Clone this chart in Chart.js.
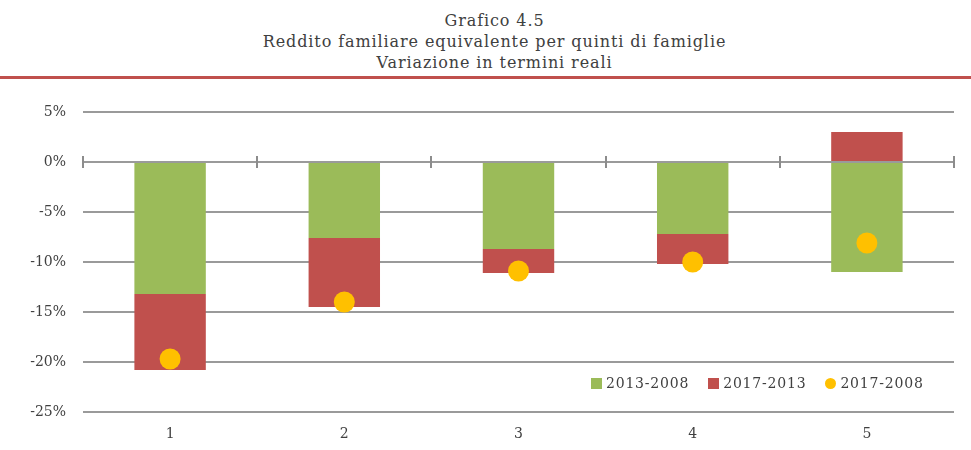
<!DOCTYPE html>
<html lang="it">
<head>
<meta charset="utf-8">
<title>Grafico 4.5</title>
<script src="https://cdn.jsdelivr.net/npm/chart.js@4.4.1/dist/chart.umd.min.js"></script>
<style>
  html, body { margin: 0; padding: 0; background: #fff; }
  #wrap { position: relative; width: 971px; height: 450px; overflow: hidden; font-family: "DejaVu Serif", serif; color: #404040; }
  #titolo { position: absolute; top: 10px; left: 18px; right: 0; text-align: center; font-size: 16px; line-height: 21px; letter-spacing: 0.9px; }
  #riga { position: absolute; top: 76px; left: 0; width: 971px; height: 3px; background: #c0504d; }
  #chart { position: absolute; top: 0; left: 0; }
  #legenda { position: absolute; top: 375px; left: 591px; display: flex; align-items: center; font-size: 14px; letter-spacing: 0.8px; white-space: nowrap; }
  #legenda span.box { display: inline-block; width: 11px; height: 11px; margin-right: 4px; }
  #legenda span.dot { display: inline-block; width: 11px; height: 11px; border-radius: 50%; margin-right: 4px; }
  #legenda .item { display: flex; align-items: center; margin-right: 19px; }
</style>
</head>
<body>
<div id="wrap">
  <div id="titolo">Grafico 4.5<br>Reddito familiare equivalente per quinti di famiglie<br>Variazione in termini reali</div>
  <div id="riga"></div>
  <canvas id="chart" width="971" height="450"></canvas>
  <div id="legenda"></div>
</div>
<script>
  // Quinti di famiglie
  const quinti = ["1", "2", "3", "4", "5"];
  // Variazioni percentuali
  const var2013_2008 = [-13.2, -7.6, -8.7, -7.2, -11.0];
  const var2017_2013 = [-7.6, -6.9, -2.4, -3.0, 3.0];
  const var2017_2008 = [-19.7, -14.0, -10.9, -10.0, -8.1];
  const serieNomi = ["2013-2008", "2017-2013", "2017-2008"];
  const colori = ["#9bbb59", "#c0504d", "#ffc000"];

  const font = { family: "'DejaVu Serif', serif", size: 14 };

  // piccole tacche sulla linea dello zero, ai confini delle categorie
  const tacchePlugin = {
    id: "tacche",
    afterDatasetsDraw(chart) {
      const { ctx, chartArea, scales } = chart;
      const y0 = scales.y.getPixelForValue(0);
      const step = (chartArea.right - chartArea.left) / quinti.length;
      ctx.save();
      ctx.strokeStyle = "#8c8c8c";
      ctx.lineWidth = 2;
      for (let i = 0; i <= quinti.length; i++) {
        const x = Math.round(chartArea.left + i * step);
        ctx.beginPath();
        ctx.moveTo(x, y0 - 6);
        ctx.lineTo(x, y0 + 6);
        ctx.stroke();
      }
      ctx.restore();
    },
  };

  new Chart(document.getElementById("chart"), {
    data: {
      labels: quinti,
      datasets: [
        {
          type: "line",
          label: serieNomi[2],
          data: var2017_2008,
          showLine: false,
          pointRadius: 10.5,
          pointHoverRadius: 10.5,
          pointBackgroundColor: colori[2],
          pointBorderWidth: 0,
          backgroundColor: colori[2],
          stack: "punti",
          order: 0,
        },
        {
          type: "bar",
          label: serieNomi[0],
          data: var2013_2008,
          backgroundColor: colori[0],
          stack: "barre",
          order: 1,
        },
        {
          type: "bar",
          label: serieNomi[1],
          data: var2017_2013,
          backgroundColor: colori[1],
          stack: "barre",
          order: 1,
        },
      ],
    },
    options: {
      responsive: false,
      animation: false,
      layout: { padding: { top: 112, right: 17, bottom: 0, left: 0 } },
      datasets: { bar: { categoryPercentage: 1, barPercentage: 0.41 } },
      plugins: {
        legend: { display: false },
        title: { display: false },
        tooltip: { enabled: false },
      },
      scales: {
        x: {
          stacked: true,
          grid: { display: false, drawTicks: false },
          border: { display: false },
          ticks: { font, color: "#404040", padding: 14 },
          afterFit(scale) { scale.height = 38; },
        },
        y: {
          stacked: true,
          min: -25,
          max: 5,
          grid: { color: "#9a9a9a", lineWidth: 2, drawTicks: false },
          border: { display: false },
          ticks: {
            stepSize: 5,
            font,
            color: "#404040",
            padding: 17,
            callback: (v) => v + "%",
          },
          afterFit(scale) { scale.width = 83; },
        },
      },
    },
    plugins: [tacchePlugin],
  });

  // legenda in basso a destra, dentro l'area del grafico
  const legenda = document.getElementById("legenda");
  legenda.innerHTML = serieNomi
    .map((nome, i) => `<div class="item"><span class="${i === 2 ? "dot" : "box"}" style="background:${colori[i]}"></span>${nome}</div>`)
    .join("");
</script>
</body>
</html>
